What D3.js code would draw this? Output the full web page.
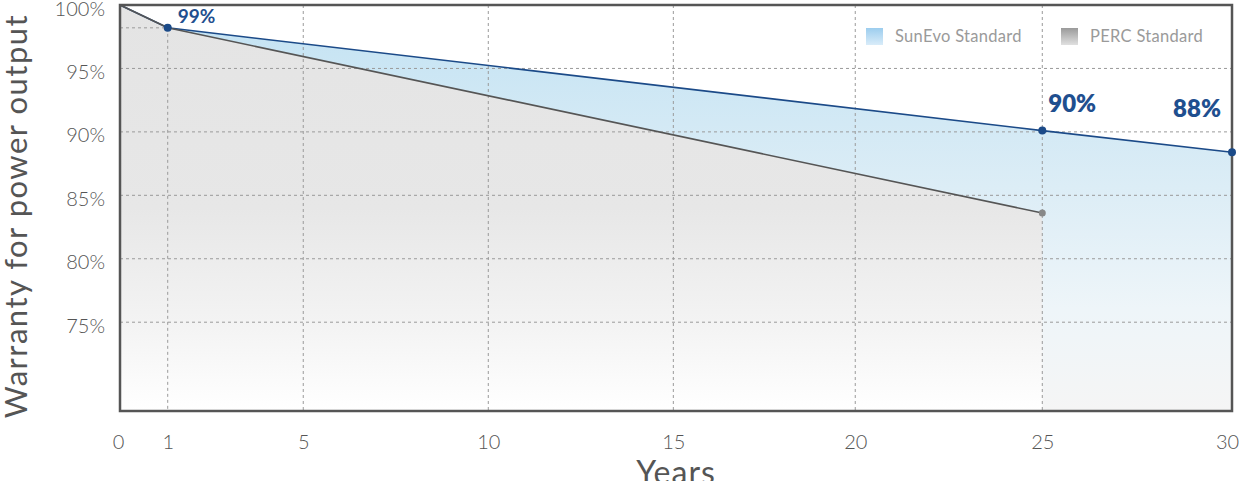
<!DOCTYPE html>
<html>
<head>
<meta charset="utf-8">
<script src="https://cdn.jsdelivr.net/npm/d3@7"></script>
<style>
  body { margin: 0; background: #fff; }
  svg { display: block; font-family: Lato, "Open Sans", sans-serif; }
</style>
</head>
<body>
<script>
// data
let xTicks = [0, 1, 5, 10, 15, 20, 25, 30];
let xTickPos = [0, 0.0429, 0.1648, 0.3312, 0.4976, 0.6612, 0.8294, 1]; // share of plot width
let yTicks = [75, 80, 85, 90, 95, 100];

let sunYears = [0, 1, 25, 30];
let sunValues = [100, 98.2, 90.1, 88.4];
let percYears = [0, 1, 25];
let percValues = [100, 98.2, 83.6];

let sunMarkers = [1, 25, 30];
let percMarkers = [25];
let labels = [
    { year: 1, text: "99%" },
    { year: 25, text: "90%" },
    { year: 30, text: "88%" }
];
let legendNames = ["SunEvo Standard", "PERC Standard"];

let width = 1241;
let height = 481;
let marginTop = 5;
let marginRight = 9;
let marginBottom = 70;
let marginLeft = 120;
let plotW = width - marginLeft - marginRight;

let sun = sunYears.map((d, i) => ({ year: d, value: sunValues[i] }));
let perc = percYears.map((d, i) => ({ year: d, value: percValues[i] }));

let x = d3.scaleLinear()
    .domain(xTicks)
    .range(xTickPos.map(p => marginLeft + p * plotW));

let y = d3.scaleLinear()
    .domain([68, 100])
    .range([height - marginBottom, marginTop]);

let svg = d3.select("body").append("svg")
    .attr("width", width)
    .attr("height", height)
    .attr("viewBox", [0, 0, width, height]);

let defs = svg.append("defs");

function vGradient(id, stops, units) {
    let g = defs.append("linearGradient").attr("id", id)
        .attr("x1", 0).attr("x2", 0);
    if (units) {
        g.attr("gradientUnits", "userSpaceOnUse")
            .attr("y1", y(100)).attr("y2", y(68));
    } else {
        g.attr("y1", 0).attr("y2", 1);
    }
    stops.forEach(s => g.append("stop").attr("offset", s[0]).attr("stop-color", s[1]));
}
vGradient("sunFill", [[0, "#c2e2f3"], [0.45, "#dcedf6"], [0.75, "#eef5f9"], [1, "#f5f5f5"]], true);
vGradient("percFill", [[0, "#e4e4e4"], [0.5, "#e7e7e7"], [0.78, "#f3f3f3"], [1, "#ffffff"]], true);
vGradient("sunSwatch", [[0, "#9ccdee"], [1, "#d9ecf9"]]);
vGradient("percSwatch", [[0, "#9a9a9a"], [1, "#e0e0e0"]]);

let area = d3.area()
    .x(d => x(d.year))
    .y0(y(68))
    .y1(d => y(d.value));

let line = d3.line()
    .x(d => x(d.year))
    .y(d => y(d.value));

svg.append("path").datum(sun).attr("fill", "url(#sunFill)").attr("d", area);
svg.append("path").datum(perc).attr("fill", "url(#percFill)").attr("d", area);

// grid
let grid = svg.append("g")
    .attr("stroke", "#9a9a9a")
    .attr("stroke-width", 1)
    .attr("stroke-dasharray", "3,3");

grid.selectAll(".vgrid")
    .data(xTicks.filter(d => d > 1 && d < 30))
    .join("line")
    .attr("x1", d => x(d)).attr("x2", d => x(d))
    .attr("y1", y(100)).attr("y2", y(68));

grid.selectAll(".hgrid")
    .data(yTicks.filter(d => d < 100))
    .join("line")
    .attr("x1", x(0)).attr("x2", x(30))
    .attr("y1", d => y(d)).attr("y2", d => y(d));

// guide lines to the year-1 point
let first = sun[1];
grid.append("line")
    .attr("x1", x(first.year)).attr("x2", x(first.year))
    .attr("y1", y(first.value)).attr("y2", y(68));
grid.append("line")
    .attr("x1", x(0)).attr("x2", x(first.year))
    .attr("y1", y(first.value)).attr("y2", y(first.value));

// lines
svg.append("path").datum(sun)
    .attr("fill", "none").attr("stroke", "#1b4a88").attr("stroke-width", 1.6)
    .attr("d", line);
svg.append("path").datum(perc)
    .attr("fill", "none").attr("stroke", "#555").attr("stroke-width", 1.6)
    .attr("d", line);

// frame
svg.append("rect")
    .attr("x", x(0)).attr("y", y(100))
    .attr("width", x(30) - x(0)).attr("height", y(68) - y(100))
    .attr("fill", "none").attr("stroke", "#555").attr("stroke-width", 2.5);

// markers
svg.selectAll(".sunDot")
    .data(sun.filter(d => sunMarkers.includes(d.year)))
    .join("circle")
    .attr("cx", d => x(d.year)).attr("cy", d => y(d.value))
    .attr("r", 4).attr("fill", "#1b4a88");
svg.selectAll(".percDot")
    .data(perc.filter(d => percMarkers.includes(d.year)))
    .join("circle")
    .attr("cx", d => x(d.year)).attr("cy", d => y(d.value))
    .attr("r", 3.5).attr("fill", "#888");

// value labels
let labelStyle = {
    1: { dx: 10, dy: -5, size: 19, weight: 700, anchor: "start" },
    25: { dx: 6, dy: -19, size: 24, weight: 800, anchor: "start" },
    30: { dx: -11, dy: -35, size: 24, weight: 800, anchor: "end" }
};
svg.selectAll(".valLabel")
    .data(labels)
    .join("text")
    .attr("x", d => x(d.year) + labelStyle[d.year].dx)
    .attr("y", d => y(sun.find(s => s.year === d.year).value) + labelStyle[d.year].dy)
    .attr("text-anchor", d => labelStyle[d.year].anchor)
    .attr("fill", "#1f4f8f")
    .style("font-size", d => labelStyle[d.year].size + "px")
    .style("font-weight", d => labelStyle[d.year].weight)
    .text(d => d.text);

// axes
svg.append("g")
    .attr("transform", `translate(0,${height - marginBottom})`)
    .call(d3.axisBottom(x).tickValues(xTicks).tickSize(0).tickPadding(24))
    .call(g => g.select(".domain").remove())
    .call(g => g.selectAll("text")
        .attr("fill", "#555")
        .style("font-size", "20px")
        .style("font-weight", 300)
        .style("font-family", "Lato, sans-serif"))
    .call(g => g.select(".tick:first-of-type text").attr("dx", "-2"))
    .call(g => g.select(".tick:last-of-type text").attr("dx", "-5"));

svg.append("g")
    .attr("transform", `translate(${marginLeft},0)`)
    .call(d3.axisLeft(y).tickValues(yTicks).tickFormat(d => d + "%").tickSize(0).tickPadding(15))
    .call(g => g.select(".domain").remove())
    .call(g => g.selectAll("text")
        .attr("fill", "#555")
        .attr("dy", "0.5em")
        .style("font-size", "20px")
        .style("font-weight", 300)
        .style("font-family", "Lato, sans-serif"));

// axis titles
svg.append("text")
    .attr("transform", `translate(27,${(y(100) + y(68)) / 2 + 8}) rotate(-90)`)
    .attr("text-anchor", "middle")
    .attr("fill", "#555")
    .style("font-size", "31px")
    .style("letter-spacing", "1.5px")
    .text("Warranty for power output");

svg.append("text")
    .attr("x", (x(0) + x(30)) / 2)
    .attr("y", height + 3)
    .attr("text-anchor", "middle")
    .attr("fill", "#555")
    .style("font-size", "32px")
    .style("letter-spacing", "1px")
    .text("Years");

// legend
let legend = svg.append("g").selectAll("g")
    .data(legendNames)
    .join("g")
    .attr("transform", (d, i) => `translate(${866 + i * 195},28)`);
legend.append("rect")
    .attr("width", 17).attr("height", 17)
    .attr("fill", (d, i) => i === 0 ? "url(#sunSwatch)" : "url(#percSwatch)");
legend.append("text")
    .attr("x", 29).attr("y", 8.5).attr("dy", "0.35em")
    .attr("fill", "#9a9a9a")
    .style("font-size", "16.5px")
    .style("letter-spacing", "0.3px")
    .text(d => d);
</script>
</body>
</html>
